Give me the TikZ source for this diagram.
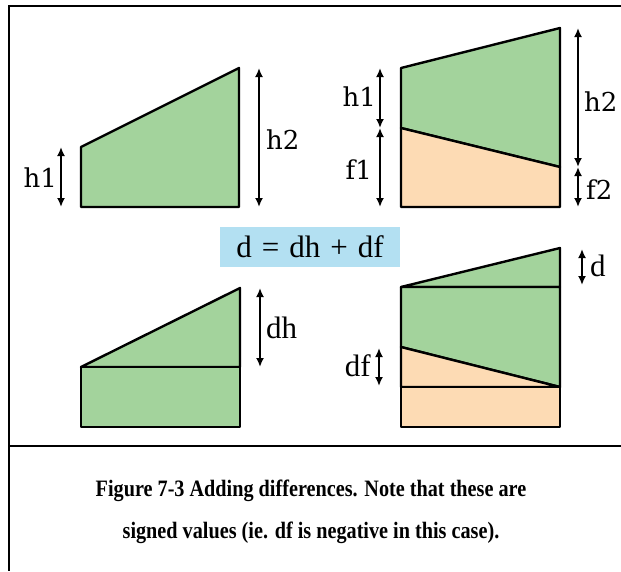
\documentclass[tikz,border=0pt]{standalone}
\usepackage{fontspec}
\setmainfont{Liberation Serif}
\newfontfamily\labelfont{DejaVu Serif}
\newfontfamily\capfont[FakeStretch=0.86]{Liberation Serif}
\usetikzlibrary{arrows.meta}
\definecolor{areagreen}{HTML}{A3D39C}
\definecolor{areaorange}{HTML}{FDDBB4}
\definecolor{eqblue}{HTML}{B3E0F2}
\tikzset{
  hpart/.style={draw=black,line width=2.4pt,line join=round,fill=areagreen},
  fpart/.style={draw=black,line width=2.4pt,line join=round,fill=areaorange},
  dimarr/.style={{Latex[length=9pt,width=8pt]}-{Latex[length=9pt,width=8pt]},line width=1.8pt},
  toplbl/.style={font=\labelfont\fontsize{26}{26}\selectfont,inner sep=0pt},
  botlbl/.style={font=\fontsize{31}{31}\selectfont,inner sep=0pt},
  frameline/.style={line width=2.4pt}
}
\newcommand{\eqgap}{\hspace{10pt}}
\begin{document}
\begin{tikzpicture}[x=1pt,y=-1pt]
\useasboundingbox (0,0) rectangle (621,571);
% frame and caption box
\draw[frameline] (621,6) -- (9,6) -- (9,571);
\draw[frameline] (9,446) -- (621,446);
% top left: h1 and h2
\draw[hpart] (81,207) -- (81,147) -- (239,68) -- (239,207) -- cycle;
\coordinate (tlh1t) at (61,147); \coordinate (tlh1b) at (61,207);
\coordinate (tlh2t) at (259,68); \coordinate (tlh2b) at (259,207);
\draw[dimarr] (tlh1t) -- (tlh1b);
\draw[dimarr] (tlh2t) -- (tlh2b);
\node[toplbl,anchor=east] (tlh1) at (57,178) {h1};
\node[toplbl,anchor=west] (tlh2) at (266,140) {h2};
% top right: h and f stacked
\draw[hpart] (401,128) -- (401,68) -- (560,28) -- (560,167) -- cycle;
\draw[fpart] (401,207) -- (401,128) -- (560,167) -- (560,207) -- cycle;
\coordinate (trh1t) at (380,68); \coordinate (trh1b) at (380,128);
\coordinate (trf1b) at (380,207);
\coordinate (trh2t) at (578,28); \coordinate (trh2b) at (578,167);
\coordinate (trf2b) at (578,207);
\draw[dimarr] (trh1t) -- (trh1b);
\draw[dimarr] (trh1b) -- (trf1b);
\draw[dimarr] (trh2t) -- (trh2b);
\draw[dimarr] (trh2b) -- (trf2b);
\node[toplbl,anchor=east] (trh1) at (376,97) {h1};
\node[toplbl,anchor=east] (trf1) at (372,170) {f1};
\node[toplbl,anchor=west] (trh2) at (584,102) {h2};
\node[toplbl,anchor=west] (trf2) at (586,190) {f2};
% equation
\node[fill=eqblue,minimum width=180pt,minimum height=40pt,inner sep=0pt,
  font=\fontsize{31}{31}\selectfont] (eq) at (310,247) {d\eqgap=\eqgap dh\eqgap+\eqgap df};
% bottom left: dh
\draw[hpart] (81,367) -- (240,288) -- (240,367) -- cycle;
\draw[hpart] (81,367) rectangle (240,427);
\coordinate (bldht) at (260,288); \coordinate (bldhb) at (260,367);
\draw[dimarr] (bldht) -- (bldhb);
\node[botlbl,anchor=west] (bldh) at (266,328) {dh};
% bottom right: d and df
\draw[hpart] (401,287) -- (560,248) -- (560,287) -- cycle;
\draw[hpart] (401,347) -- (401,287) -- (560,287) -- (560,387) -- cycle;
\draw[fpart] (401,387) -- (401,347) -- (560,387) -- cycle;
\draw[fpart] (401,387) rectangle (560,427);
\coordinate (brdt) at (582,249); \coordinate (brdb) at (582,285);
\coordinate (brdft) at (379,348); \coordinate (brdfb) at (379,386);
\draw[dimarr] (brdt) -- (brdb);
\draw[dimarr] (brdft) -- (brdfb);
\node[botlbl,anchor=west] (brd) at (590,266) {d};
\node[botlbl,anchor=east] (brdf) at (371,366) {df};
% caption
\node[font=\capfont\bfseries\fontsize{23.5}{42}\selectfont,align=center] (caption) at (311,512)
  {Figure 7-3 Adding differences. Note that these are\\signed values (ie. df is negative in this case).};
\end{tikzpicture}
\end{document}
